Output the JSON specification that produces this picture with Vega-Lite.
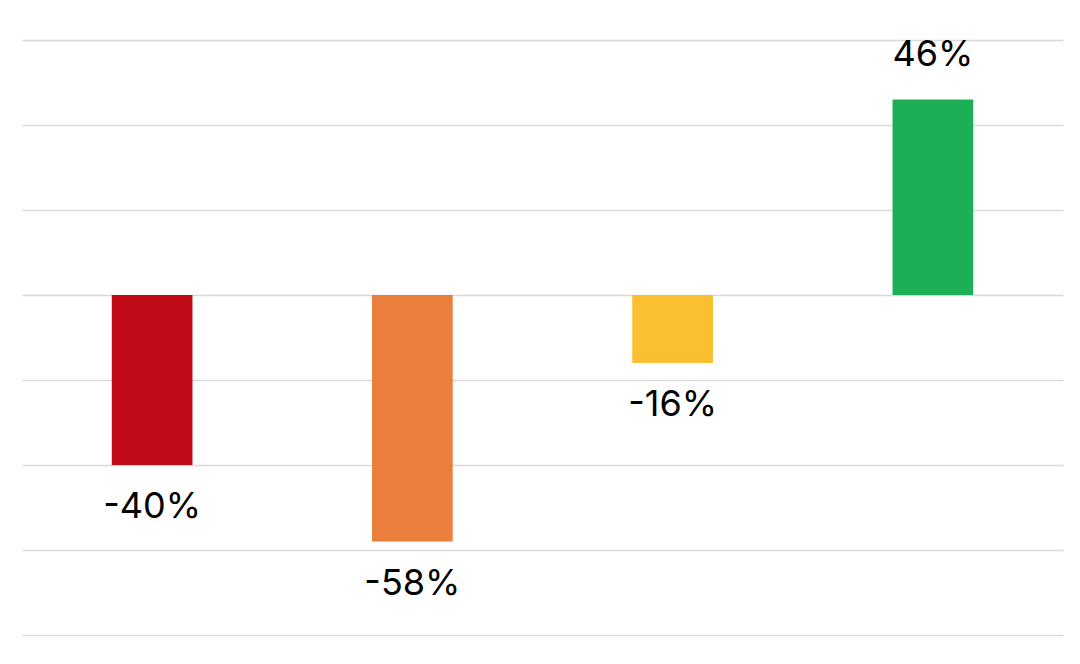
{
  "$schema": "https://vega.github.io/schema/vega-lite/v6.json",
  "width": 1041,
  "height": 595,
  "autosize": {"type": "none"},
  "padding": {"left": 22, "top": 40, "right": 17, "bottom": 29},
  "background": "white",
  "config": {"view": {"stroke": null}},
  "data": {"values": [
    {"category": "A", "value": -40, "label": "-40%"},
    {"category": "B", "value": -58, "label": "-58%"},
    {"category": "C", "value": -16, "label": "-16%"},
    {"category": "D", "value": 46, "label": "46%"}
  ]},
  "encoding": {
    "x": {"field": "category", "type": "nominal", "sort": null,
      "scale": {"paddingInner": 0.69, "paddingOuter": 0.345},
      "axis": null},
    "y": {"field": "value", "type": "quantitative",
      "scale": {"domain": [-80, 60], "nice": false},
      "axis": {"values": [-80, -60, -40, -20, 0, 20, 40, 60], "grid": true, "gridColor": "#d9d9d9", "gridWidth": 1.3, "domain": false, "ticks": false, "labels": false, "title": null}}
  },
  "layer": [
    {
      "mark": {"type": "bar"},
      "encoding": {
        "y2": {"datum": 0},
        "color": {"field": "category", "type": "nominal", "legend": null,
          "scale": {"domain": ["A", "B", "C", "D"], "range": ["#C00A17", "#EA7E3C", "#FBBF32", "#1DAF56"]}}
      }
    },
    {
      "transform": [{"filter": "datum.value < 0"}],
      "mark": {"type": "text", "baseline": "top", "dy": 25, "fontSize": 36, "font": "Inter", "color": "#000000"},
      "encoding": {"text": {"field": "label"}}
    },
    {
      "transform": [{"filter": "datum.value >= 0"}],
      "mark": {"type": "text", "baseline": "bottom", "dy": -26, "fontSize": 36, "font": "Inter", "color": "#000000"},
      "encoding": {"text": {"field": "label"}}
    }
  ]
}
